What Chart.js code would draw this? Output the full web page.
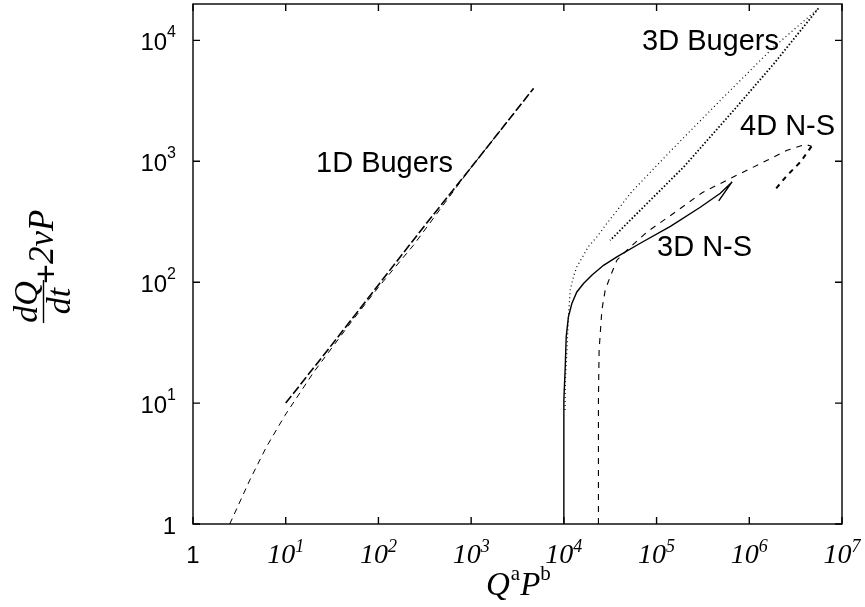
<!DOCTYPE html>
<html>
<head>
<meta charset="utf-8">
<script src="https://cdn.jsdelivr.net/npm/chart.js@4.4.1/dist/chart.umd.min.js"></script>
<style>
  html, body { margin: 0; padding: 0; background: #fff; }
  #wrap { width: 865px; height: 607px; }
</style>
</head>
<body>
<div id="wrap"><canvas id="chart" width="865" height="607"></canvas></div>
<script>
// axis ticks (decades)
const xTicks = [1, 1e1, 1e2, 1e3, 1e4, 1e5, 1e6, 1e7];
const yTicks = [1, 1e1, 1e2, 1e3, 1e4];

// 1D Bugers: two nearly identical curves
const burg1aX = [10, 30, 100, 300, 1000, 4700];
const burg1aY = [10, 29, 95, 280, 890, 4000];
const burg1bX = [2.49, 4.1, 6.2, 9.8, 20, 50, 100, 236, 1000, 4700];
const burg1bY = [1, 2.31, 4.35, 7.9, 18, 46, 91, 200, 890, 4000];

// 3D Bugers: outgoing branch and return branch
const burg3aX = [1.03e4, 1.035e4, 1.08e4, 1.12e4, 1.17e4, 1.27e4, 1.38e4, 1.63e4, 1.83e4, 2.27e4, 2.91e4, 5.4e4, 1.51e5, 5.25e5, 1.82e6, 5.57e6];
const burg3aY = [8.75, 14.6, 27.4, 51.6, 86, 111, 134, 167, 196, 237, 306, 560, 1280, 3380, 8750, 18400];
const burg3bX = [5.57e6, 1.84e6, 6.79e5, 1.96e5, 6.67e4, 3.16e4];
const burg3bY = [18400, 6410, 2640, 897, 394, 222];

// 3D N-S
const ns3X = [1e4, 1e4, 1.035e4, 1.06e4, 1.12e4, 1.22e4, 1.38e4, 1.63e4, 2.0e4, 2.68e4, 3.73e4, 6.67e4, 1.41e5, 2.96e5, 4.87e5, 6.52e5, 4.68e5];
const ns3Y = [1, 10.6, 20, 35.3, 51.6, 66.7, 83, 97.6, 114, 138, 162, 210, 290, 417, 544, 675, 470];

// 4D N-S: outgoing branch and return branch
const ns4aX = [2.36e4, 2.36e4, 2.4e4, 2.57e4, 2.79e4, 3.16e4, 3.73e4, 4.79e4, 7.87e4, 1.53e5, 3.1e5, 6.79e5, 1.56e6, 2.56e6, 4.02e6, 4.69e6];
const ns4aY = [1, 10.6, 27.4, 58.7, 86, 111, 152, 184, 260, 372, 550, 745, 1019, 1233, 1381, 1330];
const ns4bX = [4.69e6, 3.56e6, 2.56e6, 1.87e6];
const ns4bY = [1330, 986, 765, 575];

const pts = (xs, ys) => xs.map((x, i) => ({ x: x, y: ys[i] }));

const sans = '"Liberation Sans", Arial, Helvetica, sans-serif';
const serif = '"Liberation Serif", "Times New Roman", Times, serif';

function line(data, dash, width) {
    return {
        data: data,
        showLine: true,
        borderColor: '#000',
        borderWidth: width,
        borderDash: dash,
        pointRadius: 0,
        tension: 0,
        fill: false
    };
}

// frame, inward ticks, tick labels, titles and curve labels
const decorate = {
    id: 'decorate',
    afterDatasetsDraw(chart) {
        const ctx = chart.ctx;
        const a = chart.chartArea;
        const xs = chart.scales.x, ys = chart.scales.y;
        ctx.save();
        ctx.fillStyle = '#000';
        ctx.strokeStyle = '#000';
        ctx.lineWidth = 1.4;
        ctx.strokeRect(a.left, a.top, a.right - a.left, a.bottom - a.top);

        const tl = 7;
        ctx.beginPath();
        xTicks.forEach(v => {
            const px = xs.getPixelForValue(v);
            ctx.moveTo(px, a.bottom); ctx.lineTo(px, a.bottom - tl);
            ctx.moveTo(px, a.top); ctx.lineTo(px, a.top + tl);
        });
        yTicks.forEach(v => {
            const py = ys.getPixelForValue(v);
            ctx.moveTo(a.left, py); ctx.lineTo(a.left + tl, py);
            ctx.moveTo(a.right, py); ctx.lineTo(a.right - tl, py);
        });
        ctx.stroke();

        // y tick labels (sans, right aligned)
        ctx.textAlign = 'left';
        ctx.textBaseline = 'alphabetic';
        yTicks.forEach(v => {
            const py = ys.getPixelForValue(v);
            const e = Math.round(Math.log10(v));
            const right = 176;
            if (e === 0) {
                ctx.font = '24px ' + sans;
                ctx.textAlign = 'right';
                ctx.fillText('1', right, py + 9.5);
                ctx.textAlign = 'left';
                return;
            }
            ctx.font = '16px ' + sans;
            const ws = ctx.measureText(String(e)).width;
            ctx.font = '24px ' + sans;
            const wm = ctx.measureText('10').width;
            ctx.fillText('10', right - ws - wm, py + 9.5);
            ctx.font = '16px ' + sans;
            ctx.fillText(String(e), right - ws, py - 3.3);
        });

        // x tick labels (italic serif, centered)
        xTicks.forEach(v => {
            const px = xs.getPixelForValue(v);
            const e = Math.round(Math.log10(v));
            const base = a.bottom + 39;
            if (e === 0) {
                ctx.font = '24px ' + sans;
                ctx.textAlign = 'center';
                ctx.fillText('1', px, base);
                ctx.textAlign = 'left';
                return;
            }
            ctx.font = 'italic 28px ' + serif;
            const wm = ctx.measureText('10').width;
            ctx.font = 'italic 18px ' + serif;
            const ws = ctx.measureText(String(e)).width;
            const x0 = px - (wm + ws) / 2;
            ctx.font = 'italic 28px ' + serif;
            ctx.fillText('10', x0, base);
            ctx.font = 'italic 18px ' + serif;
            ctx.fillText(String(e), x0 + wm, base - 11);
        });

        // x axis title: Q^a P^b
        let x = 486;
        const xb = 595;
        ctx.font = 'italic 33px ' + serif;
        ctx.fillText('Q', x, xb); x += ctx.measureText('Q').width + 1;
        ctx.font = '21px ' + serif;
        ctx.fillText('a', x, xb - 15); x += ctx.measureText('a').width;
        ctx.font = 'italic 33px ' + serif;
        ctx.fillText('P', x, xb); x += ctx.measureText('P').width;
        ctx.font = '21px ' + serif;
        ctx.fillText('b', x, xb - 15);

        // y axis title: dQ/dt + 2vP, rotated
        ctx.save();
        ctx.translate(0, 330);
        ctx.rotate(-Math.PI / 2);
        ctx.font = 'italic 34px ' + serif;
        ctx.textAlign = 'center';
        ctx.fillText('dQ', 28, 37);
        ctx.fillText('dt', 29, 70);
        ctx.fillRect(7, 42.8, 43, 1.4);
        ctx.textAlign = 'left';
        ctx.font = '34px ' + sans;
        ctx.fillText('+', 46, 57);
        ctx.font = 'italic 35px ' + serif;
        ctx.fillText('2\u03BDP', 66, 53);
        ctx.restore();

        // curve labels
        ctx.font = '29px ' + sans;
        ctx.textAlign = 'left';
        ctx.fillText('1D Bugers', 316, 172);
        ctx.fillText('3D Bugers', 642, 50);
        ctx.fillText('4D N-S', 740, 135);
        ctx.fillText('3D N-S', 657, 256);
        ctx.restore();
    }
};

new Chart(document.getElementById('chart'), {
    type: 'scatter',
    data: {
        datasets: [
            line(pts(burg1aX, burg1aY), [9, 3], 1.6),
            line(pts(burg1bX, burg1bY), [6, 5], 1),
            line(pts(burg3aX, burg3aY), [1, 3], 1.2),
            line(pts(burg3bX, burg3bY), [1.5, 2], 1.8),
            line(pts(ns3X, ns3Y), [], 1.4),
            line(pts(ns4aX, ns4aY), [6, 6], 1.1),
            line(pts(ns4bX, ns4bY), [5, 5], 2)
        ]
    },
    options: {
        responsive: false,
        animation: false,
        devicePixelRatio: 1,
        layout: { autoPadding: false, padding: { left: 193, right: 23, top: 4, bottom: 83 } },
        plugins: { legend: { display: false }, tooltip: { enabled: false } },
        scales: {
            x: { type: 'logarithmic', min: 1, max: 1e7, display: false },
            y: { type: 'logarithmic', min: 1, max: 2e4, display: false }
        }
    },
    plugins: [decorate]
});
</script>
</body>
</html>
